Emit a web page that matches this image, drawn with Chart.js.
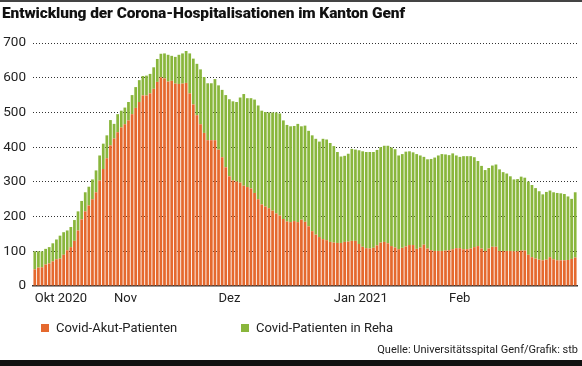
<!DOCTYPE html>
<html>
<head>
<meta charset="utf-8">
<script src="https://cdn.jsdelivr.net/npm/chart.js@4/dist/chart.umd.min.js"></script>
<style>
body{margin:0;width:582px;height:366px;overflow:hidden;background:#fff;font-family:Roboto,"Noto Sans",sans-serif;position:relative}
#topline{position:absolute;left:0;top:0;width:582px;height:2px;background:#444}
#title{position:absolute;left:2px;top:4px;font-size:15.5px;font-weight:900;color:#111;white-space:nowrap;letter-spacing:-0.1px}
#wrap{position:absolute;left:0;top:0;width:582px;height:366px}
.leg{position:absolute;top:320px;font-size:13px;color:#222;white-space:nowrap}
.leg i{display:inline-block;width:8px;height:8px;margin-right:7px;vertical-align:0px}
#src{position:absolute;right:4px;top:343px;font-size:11px;color:#222}
#bottom{position:absolute;left:0;top:360px;width:582px;height:6px;background:#111}
</style>
</head>
<body>
<div id="wrap"><canvas id="chart" width="582" height="366"></canvas></div>
<div id="topline"></div>
<div id="title">Entwicklung der Corona-Hospitalisationen im Kanton Genf</div>
<div class="leg" style="left:41px"><i style="background:#e5692e"></i>Covid-Akut-Patienten</div>
<div class="leg" style="left:241px"><i style="background:#89b63c"></i>Covid-Patienten in Reha</div>
<div id="src">Quelle: Universitätsspital Genf/Grafik: stb</div>
<div id="bottom"></div>
<script>
// Patienten pro Tag, ab 1. Oktober 2020
var akut = [48,53,54,62,65,71,77,79,90,103,112,130,160,192,215,232,250,270,304,337,
	368,405,425,443,457,466,477,495,513,530,549,549,555,568,588,601,598,589,591,583,
	582,583,585,555,523,492,466,441,420,420,420,393,371,342,316,304,301,298,289,285,
	281,268,250,235,229,224,217,209,203,193,186,184,187,184,191,185,172,158,148,141,
	135,132,127,125,124,124,127,128,130,130,121,113,109,108,110,117,125,127,123,115,
	111,106,110,114,118,118,107,111,119,108,103,101,101,101,102,103,106,109,109,106,
	106,108,112,115,108,101,108,113,113,101,101,101,101,100,100,102,102,90,83,79,
	76,74,76,83,77,74,74,74,75,78,82];
var reha = [52,47,46,45,47,52,57,66,65,57,58,60,55,53,55,54,57,63,72,73,
	66,73,42,52,48,48,53,55,60,63,56,57,56,62,66,68,72,77,72,77,
	84,87,92,115,132,148,158,161,164,164,176,185,194,208,222,228,229,245,264,256,
	260,269,270,270,272,276,283,291,294,284,278,276,274,283,269,277,275,276,276,275,
	289,290,285,278,262,249,248,253,265,263,270,275,277,278,276,275,275,277,281,284,
	283,270,270,273,270,267,273,265,253,257,263,269,275,279,277,274,276,267,263,268,
	268,266,259,245,238,233,232,234,237,235,227,223,215,207,208,213,210,211,208,203,
	197,190,195,192,193,194,193,191,183,173,188];
var monatIndex = [0, 22, 51, 83, 115];
var monatText = ['Okt 2020', 'Nov', 'Dez', 'Jan 2021', 'Feb'];

var tage = [];
var d0 = new Date(2020, 9, 1);
for (var i = 0; i < akut.length; i++) {
	var d = new Date(d0.getFullYear(), d0.getMonth(), d0.getDate() + i);
	tage.push(d.getDate() + '.' + (d.getMonth() + 1) + '.' + d.getFullYear());
}

var ctx = document.getElementById('chart').getContext('2d');
var myChart = new Chart(ctx, {
	type: 'bar',
	data: {
		labels: tage,
		datasets: [
			{ label: 'Covid-Akut-Patienten', data: akut, backgroundColor: '#e5692e', barPercentage: 0.76, categoryPercentage: 1 },
			{ label: 'Covid-Patienten in Reha', data: reha, backgroundColor: '#89b63c', barPercentage: 0.76, categoryPercentage: 1 }
		]
	},
	options: {
		responsive: false,
		animation: false,
		devicePixelRatio: 1,
		layout: { padding: { left: 0, right: 5, top: 43, bottom: 58 } },
		plugins: {
			legend: { display: false },
			tooltip: { enabled: false }
		},
		scales: {
			x: {
				stacked: true,
				grid: { display: false, drawTicks: false },
				border: { display: true, color: '#333', width: 1.5 },
				ticks: {
					autoSkip: false, maxRotation: 0, align: 'start', padding: 5,
					color: '#222', font: { family: 'Roboto', size: 13 },
					callback: function (v) {
						var k = monatIndex.indexOf(v);
						return k < 0 ? '' : monatText[k];
					}
				},
				afterBuildTicks: function (s) {
					s.ticks = s.ticks.filter(function (t) { return monatIndex.indexOf(t.value) >= 0; });
				},
				afterFit: function (s) { s.height = 22; }
			},
			y: {
				stacked: true, min: 0, max: 700, z: 1,
				ticks: { stepSize: 100, padding: 7, color: '#222', font: { family: 'Roboto', size: 13.5 } },
				grid: {
					drawTicks: false, lineWidth: 1,
					color: function (c) { return c.tick && c.tick.value === 0 ? 'rgba(0,0,0,0)' : '#333'; }
				},
				border: { display: false, dash: [1, 2] },
				afterFit: function (s) { s.width = 33; }
			}
		}
	}
});
</script>
</body>
</html>
